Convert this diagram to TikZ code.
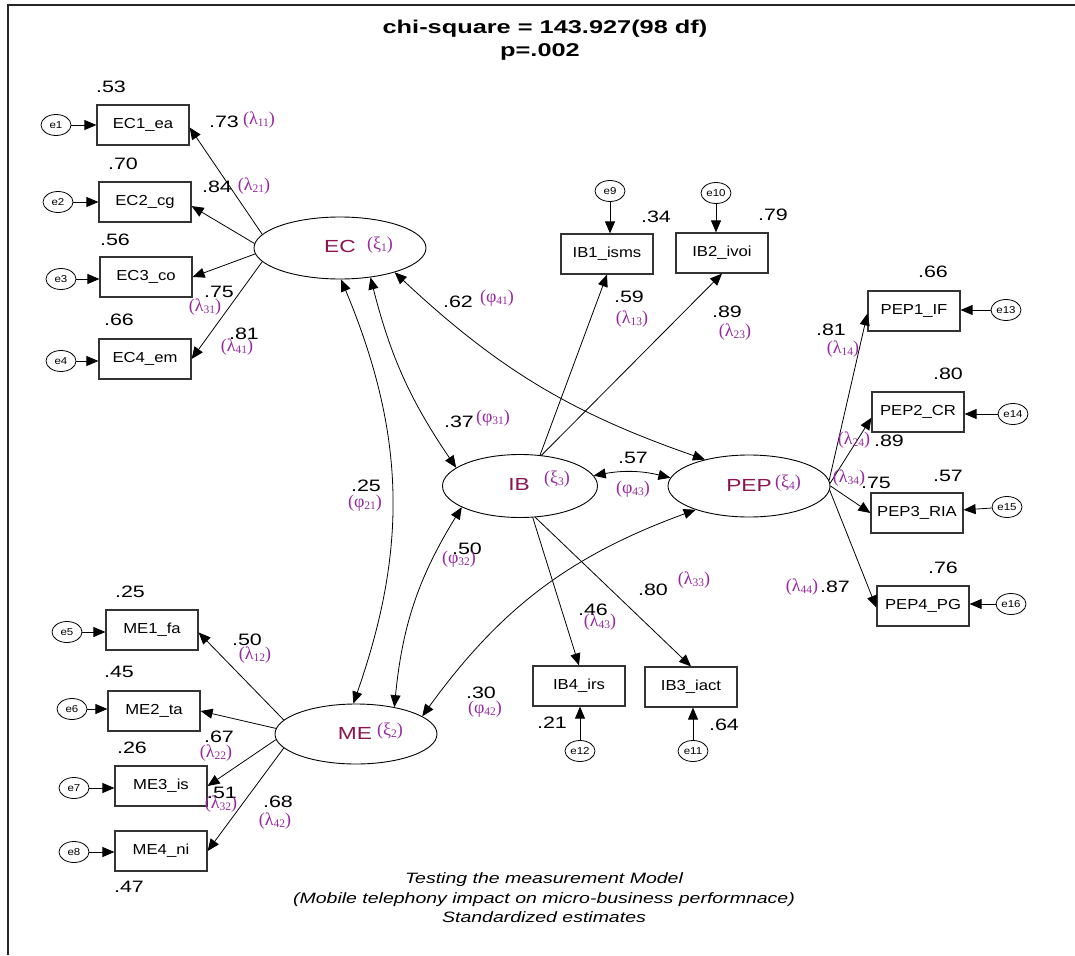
\documentclass[tikz,border=0pt]{standalone}
\usepackage{fontspec}
\setmainfont{Liberation Sans}[FakeStretch=1.15]
\newfontfamily\numfont{Liberation Sans}[FakeStretch=1.3]
\newfontfamily\titlefont{Liberation Sans}[FakeStretch=1.37]
\newfontfamily\greekfont{Liberation Serif}
\usetikzlibrary{arrows.meta,shapes.geometric}

\definecolor{gpurple}{RGB}{150,40,160}
\definecolor{lmaroon}{RGB}{140,20,80}

% Greek parameter with subscript, e.g. (lambda_11)
\newcommand{\gpar}[2]{(#1\raisebox{-2.5pt}{\fontsize{11.5}{11.5}\selectfont #2})}

\tikzset{
  obs/.style={rectangle, draw=black!80, line width=1.2pt, minimum width=92pt,
    minimum height=40pt, inner sep=0pt, font=\fontsize{14.5}{14.5}\selectfont},
  lat/.style={ellipse, draw, line width=0.9pt, inner sep=0pt},
  err/.style={ellipse, draw, line width=0.8pt, minimum width=30pt,
    minimum height=21pt, inner sep=0pt, font=\fontsize{10}{10}\selectfont},
  val/.style={inner sep=0pt, font=\numfont\fontsize{16.5}{16.5}\selectfont},
  par/.style={inner sep=0pt, text=gpurple, font=\greekfont\fontsize{18}{18}\selectfont},
  latname/.style={inner sep=0pt, text=lmaroon, font=\numfont\fontsize{17.5}{17.5}\selectfont},
  load/.style={-{Triangle[length=12pt,width=10pt]}, line width=0.8pt},
  covar/.style={{Triangle[length=12pt,width=10pt]}-{Triangle[length=12pt,width=10pt]}, line width=0.8pt},
}

\begin{document}
\begin{tikzpicture}[x=1pt,y=-1pt]
\useasboundingbox (0,0) rectangle (1075,955);
\fill[white] (0,0) rectangle (1075,955);
\draw[line width=2pt, black!85] (8,955) -- (8,5) -- (1075,5);

% heading
\node[font=\titlefont\bfseries\fontsize{18.5}{18.5}\selectfont] (title1) at (545,29) {chi-square = 143.927(98 df)};
\node[font=\titlefont\bfseries\fontsize{18.5}{18.5}\selectfont] (title2) at (540,52) {p=.002};

% latent factors
\node[lat, minimum width=172pt, minimum height=62pt] (EC) at (340,248) {};
\node[lat, minimum width=155pt, minimum height=63pt] (IB) at (520,486) {};
\node[lat, minimum width=162pt, minimum height=62pt] (PEP) at (749,486) {};
\node[lat, minimum width=162pt, minimum height=60pt] (ME) at (356,734) {};

\node[latname] (ECt) at (340,246) {EC};
\node[par] (ECx) at (380,245) {\gpar{ξ}{1}};
\node[latname] (IBt) at (519,484) {IB};
\node[par] (IBx) at (557,479) {\gpar{ξ}{3}};
\node[latname] (PEPt) at (749,485) {PEP};
\node[par] (PEPx) at (788,483) {\gpar{ξ}{4}};
\node[latname] (MEt) at (355,733) {ME};
\node[par] (MEx) at (390,731) {\gpar{ξ}{2}};

% observed indicators
\node[obs] (EC1) at (143,125) {EC1\_ea};
\node[obs] (EC2) at (145,202) {EC2\_cg};
\node[obs] (EC3) at (146,277) {EC3\_co};
\node[obs] (EC4) at (145,359) {EC4\_em};
\node[obs] (ME1) at (152,630) {ME1\_fa};
\node[obs] (ME2) at (154,711) {ME2\_ta};
\node[obs] (ME3) at (161,786) {ME3\_is};
\node[obs] (ME4) at (161,851) {ME4\_ni};
\node[obs] (IB1) at (607,254) {IB1\_isms};
\node[obs] (IB2) at (722,253) {IB2\_ivoi};
\node[obs] (IB4) at (579,686) {IB4\_irs};
\node[obs] (IB3) at (691,687) {IB3\_iact};
\node[obs] (PEP1) at (914,311) {PEP1\_IF};
\node[obs] (PEP2) at (918,412) {PEP2\_CR};
\node[obs] (PEP3) at (917,513) {PEP3\_RIA};
\node[obs] (PEP4) at (923,606) {PEP4\_PG};

% error terms
\node[err] (e1) at (56,125) {e1};
\node[err] (e2) at (58,202) {e2};
\node[err] (e3) at (61,279) {e3};
\node[err] (e4) at (61,361) {e4};
\node[err] (e5) at (67,632) {e5};
\node[err] (e6) at (72,709) {e6};
\node[err] (e7) at (74,788) {e7};
\node[err] (e8) at (74,852) {e8};
\node[err] (e9) at (610,191) {e9};
\node[err] (e10) at (716,193) {e10};
\node[err] (e11) at (693,751) {e11};
\node[err] (e12) at (580,751) {e12};
\node[err] (e13) at (1006,310) {e13};
\node[err] (e14) at (1013,414) {e14};
\node[err] (e15) at (1007,507) {e15};
\node[err] (e16) at (1011,604) {e16};

% error paths
\foreach \e/\b in {e1/EC1,e2/EC2,e3/EC3,e4/EC4,e5/ME1,e6/ME2,e7/ME3,e8/ME4}
  \draw[load] (\e.east) -- (\e.east -| \b.west);
\foreach \e/\b in {e13/PEP1,e14/PEP2,e16/PEP4}
  \draw[load] (\e.west) -- (\e.west -| \b.east);
\draw[load] (e15) -- (PEP3);
\foreach \e/\b in {e9/IB1,e10/IB2}
  \draw[load] (\e.south) -- (\e.south |- \b.north);
\foreach \e/\b in {e12/IB4,e11/IB3}
  \draw[load] (\e.north) -- (\e.north |- \b.south);

% factor loadings
\draw[load] (EC.170) -- (EC1.357);
\draw[load] (EC.177) -- (EC2.355);
\draw[load] (EC.184) -- (EC3.east);
\draw[load] (EC.190) -- (EC4.east);
\draw[load] (ME.169) -- (ME1.357);
\draw[load] (ME.176) -- (ME2.east);
\draw[load] (ME.184) -- (ME3.east);
\draw[load] (ME.191) -- (ME4.east);
\draw[load] (IB.57) -- (IB1.south);
\draw[load] (IB.55) -- (IB2.south);
\draw[load] (IB.292) -- (IB4.north);
\draw[load] (IB.296) -- (IB3.north);
\draw[load] (PEP.4) -- (PEP1.183);
\draw[load] (PEP.2) -- (PEP2.187);
\draw[load] (PEP.0) -- (PEP3.west);
\draw[load] (PEP.-3) -- (PEP4.182);

% factor covariances
\draw[covar] (EC.272) to[bend left=21] (ME.95);
\draw[covar] (EC.316) to[bend right=10] (IB.164);
\draw[covar] (EC.336) to[bend right=12] (PEP.149);
\draw[covar] (IB.8) to[bend left=12] (PEP.174);
\draw[covar] (ME.35) to[bend left=13] (IB.200);
\draw[covar] (ME.15) to[bend left=17] (PEP.204);

% squared multiple correlations
\node[val] (r1) at (111,87) {.53};
\node[val] (r2) at (123,164) {.70};
\node[val] (r3) at (115,240) {.56};
\node[val] (r4) at (119,320) {.66};
\node[val] (r5) at (130,592) {.25};
\node[val] (r6) at (119,672) {.45};
\node[val] (r7) at (132,748) {.26};
\node[val] (r8) at (129,887) {.47};
\node[val] (r9) at (656,217) {.34};
\node[val] (r10) at (773,215) {.79};
\node[val] (r11) at (724,725) {.64};
\node[val] (r12) at (552,723) {.21};
\node[val] (r13) at (933,272) {.66};
\node[val] (r14) at (948,374) {.80};
\node[val] (r15) at (948,476) {.57};
\node[val] (r16) at (943,568) {.76};

% standardized loadings
\node[val] (v11) at (224,122) {.73};
\node[par] (l11) at (259,120) {\gpar{λ}{11}};
\node[val] (v21) at (217,187) {.84};
\node[par] (l21) at (254,186) {\gpar{λ}{21}};
\node[val] (v31) at (219,292) {.75};
\node[par] (l31) at (205,307) {\gpar{λ}{31}};
\node[val] (v41) at (244,334) {.81};
\node[par] (l41) at (237,347) {\gpar{λ}{41}};
\node[val] (v12) at (247,640) {.50};
\node[par] (l12) at (255,655) {\gpar{λ}{12}};
\node[val] (v22) at (219,737) {.67};
\node[par] (l22) at (216,753) {\gpar{λ}{22}};
\node[val] (v32) at (222,793) {.51};
\node[par] (l32) at (221,804) {\gpar{λ}{32}};
\node[val] (v42) at (278,802) {.68};
\node[par] (l42) at (275,821) {\gpar{λ}{42}};
\node[val] (v13) at (629,297) {.59};
\node[par] (l13) at (632,319) {\gpar{λ}{13}};
\node[val] (v23) at (727,312) {.89};
\node[par] (l23) at (735,332) {\gpar{λ}{23}};
\node[val] (v43) at (593,610) {.46};
\node[par] (l43) at (600,622) {\gpar{λ}{43}};
\node[val] (v33) at (653,590) {.80};
\node[par] (l33) at (694,580) {\gpar{λ}{33}};
\node[val] (v14) at (831,330) {.81};
\node[par] (l14) at (843,349) {\gpar{λ}{14}};
\node[val] (v24) at (889,441) {.89};
\node[par] (l24) at (854,440) {\gpar{λ}{24}};
\node[val] (v34) at (876,483) {.75};
\node[par] (l34) at (849,478) {\gpar{λ}{34}};
\node[val] (v44) at (835,587) {.87};
\node[par] (l44) at (802,587) {\gpar{λ}{44}};

% factor correlations
\node[val] (c41) at (458,302) {.62};
\node[par] (p41) at (497,298) {\gpar{φ}{41}};
\node[val] (c31) at (459,422) {.37};
\node[par] (p31) at (493,418) {\gpar{φ}{31}};
\node[val] (c43) at (633,458) {.57};
\node[par] (p43) at (633,489) {\gpar{φ}{43}};
\node[val] (c21) at (366,486) {.25};
\node[par] (p21) at (365,503) {\gpar{φ}{21}};
\node[val] (c32) at (467,549) {.50};
\node[par] (p32) at (459,559) {\gpar{φ}{32}};
\node[val] (c42) at (481,693) {.30};
\node[par] (p42) at (485,709) {\gpar{φ}{42}};

% caption
\node[align=center, font=\numfont\itshape\fontsize{15}{19.5}\selectfont] (cap) at (544,898)
  {Testing the measurement Model\\(Mobile telephony impact on micro-business performnace)\\Standardized estimates};
\end{tikzpicture}
\end{document}
